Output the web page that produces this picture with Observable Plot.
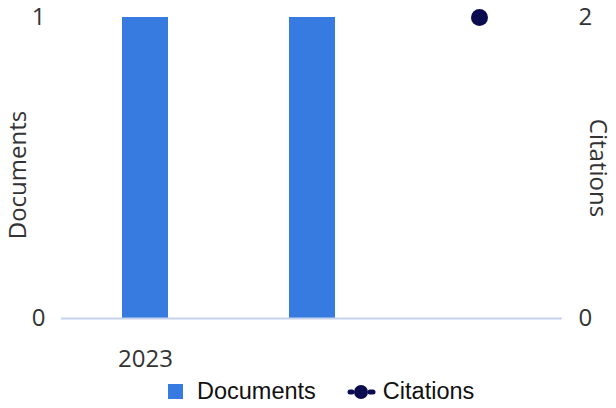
<!DOCTYPE html>
<html>
<head>
<meta charset="utf-8">
<script src="https://cdn.jsdelivr.net/npm/d3@7"></script>
<script src="https://cdn.jsdelivr.net/npm/@observablehq/plot@0.6"></script>
<style>
  html, body { margin: 0; padding: 0; background: #fff; }
  #chart { width: 616px; }
  .legend { height: 33px; display: flex; align-items: center; justify-content: flex-start; font-family: "Liberation Sans", Arial, sans-serif; font-size: 23.5px; color: #111; }
  .legend .sw { width: 15px; height: 15px; background: #377be0; display: inline-block; }
</style>
</head>
<body>
<div id="chart"></div>
<script>
// ---- data ----
const categories = ["2023", "2024", "2025"];
const tickLabels = ["2023", "", ""];
const documents = [1, 1, 0];
const citations = [null, null, 2];
const docMax = 1;
const citMax = 2;
const leftTicks = [0, 1];
const rightTicks = [0, 2];

const docColor = "#377be0";
const citColor = "#0b0c50";
const font = "'Open Sans', 'Noto Sans', sans-serif";

const docData = categories.map((c, i) => ({cat: c, value: documents[i]}));
const citData = categories.map((c, i) => ({cat: c, value: citations[i]})).filter(d => d.value != null);

const chart = Plot.plot({
  width: 616,
  height: 375,
  marginLeft: 61,
  marginRight: 54,
  marginTop: 17,
  marginBottom: 57,
  style: {fontFamily: font, fontSize: "24px", color: "#333", background: "#fff"},
  x: {domain: categories, paddingInner: 0.725, paddingOuter: 0.3625, align: 0.5},
  y: {domain: [0, docMax]},
  marks: [
    Plot.axisX({tickSize: 0, tickPadding: 31, tickFormat: (d) => tickLabels[categories.indexOf(d)], label: null, fontSize: 24, fill: "#333"}),
    Plot.axisY({anchor: "left", ticks: leftTicks, tickFormat: d3.format("d"), tickSize: 0, tickPadding: 16, label: null, fontSize: 24, fill: "#333"}),
    Plot.axisY({anchor: "right", ticks: rightTicks.map(t => t / citMax * docMax), tickFormat: d => String(Math.round(d / docMax * citMax)), tickSize: 0, tickPadding: 16, label: null, fontSize: 24, fill: "#333"}),
    Plot.barY(docData, {x: "cat", y: "value", fill: docColor}),
    Plot.ruleY([0], {stroke: "#c5d4ec", strokeWidth: 2}),
    Plot.dot(citData, {x: "cat", y: d => d.value / citMax * docMax, r: 8.5, fill: citColor}),
    Plot.text(["Documents"], {frameAnchor: "left", textAnchor: "middle", rotate: -90, dx: -43, dy: 7, fontSize: 24, fill: "#333"}),
    Plot.text(["Citations"], {frameAnchor: "right", textAnchor: "middle", rotate: 90, dx: 35, fontSize: 24, fill: "#333"})
  ]
});
document.getElementById("chart").appendChild(chart);

// legend
const legend = document.createElement("div");
legend.className = "legend";
legend.innerHTML = `
  <span style="width:168px"></span>
  <span class="sw"></span>
  <span style="margin-left:14px">Documents</span>
  <svg width="30" height="16" style="margin-left:31px" viewBox="0 0 30 16">
    <line x1="3" y1="8" x2="5" y2="8" stroke="${citColor}" stroke-width="5" stroke-linecap="round"/>
    <circle cx="14" cy="8" r="7" fill="${citColor}"/>
    <line x1="23" y1="8" x2="26" y2="8" stroke="${citColor}" stroke-width="5" stroke-linecap="round"/>
  </svg>
  <span style="margin-left:6px">Citations</span>`;
document.getElementById("chart").appendChild(legend);
</script>
</body>
</html>
